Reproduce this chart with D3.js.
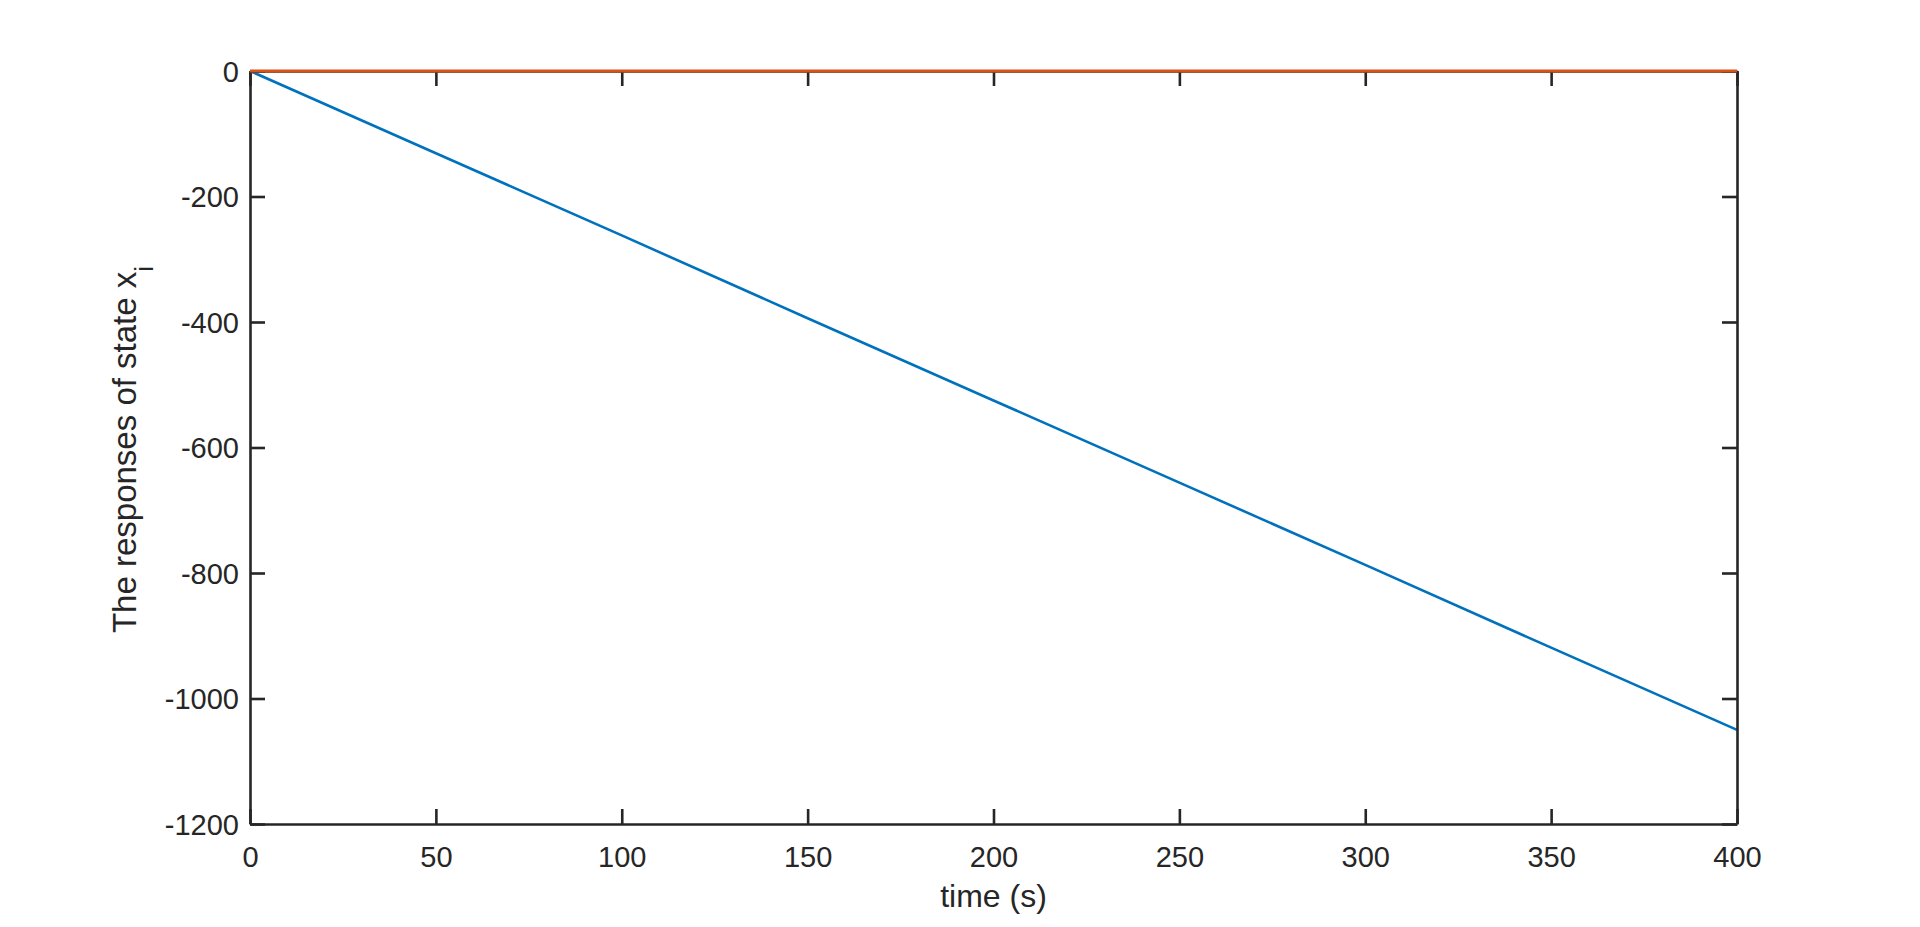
<!DOCTYPE html>
<html>
<head>
<meta charset="utf-8">
<script src="https://cdn.jsdelivr.net/npm/d3@7"></script>
<style>
  body { margin: 0; background: #fff; }
  text { font-family: "Liberation Sans", Arial, Helvetica, sans-serif; fill: #262626; }
</style>
</head>
<body>
<div id="chart"></div>
<script>
// data
const time = [0, 50, 100, 150, 200, 250, 300, 350, 400];
const x1 = [0, -131, -262, -394, -525, -656, -787, -919, -1050];
const x2 = [0, 0, 0, 0, 0, 0, 0, 0, 0];
const xTicks = [0, 50, 100, 150, 200, 250, 300, 350, 400];
const yTicks = [0, -200, -400, -600, -800, -1000, -1200];

const width = 1920, height = 927;
const margin = {top: 71, right: 183, bottom: 103, left: 250};
const w = width - margin.left - margin.right;
const h = height - margin.top - margin.bottom;

const svg = d3.select('#chart')
              .append('svg')
              .attr('width', width)
              .attr('height', height);

const g = svg.append('g')
             .attr('transform', `translate(${margin.left},${margin.top})`);

const x = d3.scaleLinear().domain([0, 400]).range([0, w]);
const y = d3.scaleLinear().domain([-1200, 0]).range([h, 0]);

const tickLen = 15;
const axisColor = '#262626';
const fmt = d => String(d);

// box + inward ticks on all four sides
const bottomAxis = d3.axisBottom(x).tickValues(xTicks).tickSizeInner(-tickLen).tickSizeOuter(0).tickPadding(22).tickFormat(fmt);
const topAxis = d3.axisTop(x).tickValues(xTicks).tickSizeInner(-tickLen).tickSizeOuter(0).tickFormat('');
const leftAxis = d3.axisLeft(y).tickValues(yTicks).tickSizeInner(-tickLen).tickSizeOuter(0).tickPadding(11).tickFormat(fmt);
const rightAxis = d3.axisRight(y).tickValues(yTicks).tickSizeInner(-tickLen).tickSizeOuter(0).tickFormat('');

const styleAxis = sel => {
    sel.selectAll('path').attr('stroke', axisColor).attr('stroke-width', 2.6);
    sel.selectAll('line').attr('stroke', axisColor).attr('stroke-width', 2.6);
    sel.selectAll('text')
       .attr('fill', axisColor)
       .style('font-size', '29px')
       .style('font-family', '"Liberation Sans", Arial, sans-serif');
};

const lineGen = d3.line()
                  .x((d, i) => x(time[i]))
                  .y(d => y(d));

g.append('path')
 .datum(x1)
 .attr('fill', 'none')
 .attr('stroke', '#0072BD')
 .attr('stroke-width', 2.6)
 .attr('d', lineGen);

g.append('g').attr('transform', `translate(0,${h})`).call(bottomAxis).call(styleAxis);
g.append('g').call(topAxis).call(styleAxis);
const leftG = g.append('g').call(leftAxis).call(styleAxis);
leftG.selectAll('.tick text').attr('dy', '0.36em');
g.append('g').attr('transform', `translate(${w},0)`).call(rightAxis).call(styleAxis);

g.append('path')
 .datum(x2)
 .attr('fill', 'none')
 .attr('stroke', '#D95319')
 .attr('stroke-width', 3)
 .attr('d', lineGen);

// axis labels
svg.append('text')
   .attr('x', margin.left + w / 2)
   .attr('y', 907)
   .attr('text-anchor', 'middle')
   .style('font-size', '32px')
   .text('time (s)');

const yl = svg.append('text')
   .attr('transform', `translate(136,${margin.top + h / 2 + 2}) rotate(-90)`)
   .attr('text-anchor', 'middle')
   .style('font-size', '33px');
yl.append('tspan').text('The responses of state x');
yl.append('tspan').attr('dy', 17).style('font-size', '26px').text('i');
</script>
</body>
</html>
